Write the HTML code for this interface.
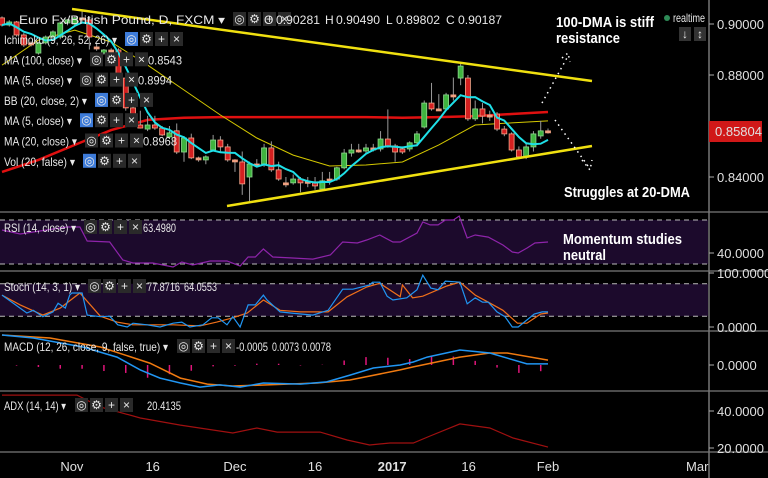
<!DOCTYPE html>
<html><head><meta charset="utf-8">
<style>
html,body{margin:0;padding:0;background:#000;}
svg{display:block;font-family:"Liberation Sans",sans-serif;}
.lg{font-size:12px;fill:#e8e8e8;}
.ax{font-size:13px;fill:#e0e0e0;}
.ann{font-size:15px;font-weight:bold;fill:#fff;}
</style></head>
<body>
<svg id="c" width="768" height="478" viewBox="0 0 768 478" xmlns="http://www.w3.org/2000/svg">
<rect x="0" y="0" width="768" height="478" fill="#000"/>
<g id="bands"></g>
<g id="grid"></g>
<g id="main"></g>
<g id="ind"></g>
<g id="txt"></g>
</svg>
<script>
// ---- Price data (EUR/GBP daily) ----
const opens=[.9024,.8996,.9008,.8957,.8918,.8886,.8926,.8949,.8949,.9004,.9000,.9024,.9016,.8910,.8886,.8898,.8898,.8788,.8671,.8604,.8588,.8604,.8592,.8557,.8581,.8498,.8553,.8475,.8467,.8506,.8545,.8518,.8467,.8459,.8400,.8451,.8451,.8514,.8428,.8377,.8377,.8392,.8381,.8381,.8353,.8385,.8392,.8436,.8494,.8506,.8502,.8514,.8510,.8549,.8522,.8510,.8510,.8534,.8596,.8690,.8667,.8667,.8722,.8788,.8788,.8628,.8667,.8635,.8647,.8588,.8569,.8506,.8479,.8518,.8561,.8581];
const highs=[.9030,.9015,.9012,.8965,.8932,.8930,.8955,.8975,.9010,.9020,.9030,.9049,.9030,.8925,.8902,.8905,.8905,.8800,.8680,.8660,.8640,.8640,.8600,.8600,.8610,.8560,.8570,.8480,.8485,.8565,.8560,.8530,.8470,.8500,.8460,.8470,.8530,.8540,.8460,.8400,.8410,.8400,.8400,.8400,.8420,.8420,.8440,.8510,.8530,.8530,.8530,.8530,.8580,.8665,.8530,.8520,.8540,.8580,.8700,.8769,.8725,.8730,.8790,.8845,.8800,.8700,.8690,.8660,.8655,.8600,.8575,.8520,.8530,.8580,.8620,.8590];
const lows=[.8990,.8990,.8950,.8910,.8912,.8880,.8920,.8940,.8940,.8995,.8995,.9010,.8900,.8895,.8880,.8885,.8780,.8660,.8600,.8590,.8580,.8585,.8560,.8550,.8490,.8460,.8470,.8460,.8450,.8500,.8500,.8460,.8420,.8330,.8306,.8440,.8440,.8420,.8385,.8360,.8370,.8340,.8360,.8350,.8350,.8370,.8385,.8430,.8480,.8495,.8490,.8500,.8500,.8515,.8460,.8490,.8500,.8520,.8590,.8660,.8660,.8660,.8700,.8760,.8620,.8620,.8610,.8620,.8580,.8560,.8500,.8470,.8470,.8500,.8550,.8570];
const closes=[.8996,.9008,.8957,.8918,.8926,.8926,.8949,.8969,.9004,.9016,.9024,.9016,.8949,.8906,.8898,.8890,.8788,.8671,.8612,.8592,.8604,.8592,.8565,.8573,.8498,.8553,.8475,.8467,.8479,.8545,.8518,.8467,.8463,.8373,.8451,.8447,.8514,.8428,.8392,.8373,.8392,.8377,.8383,.8365,.8385,.8392,.8436,.8494,.8506,.8504,.8514,.8512,.8549,.8522,.8498,.8498,.8534,.8569,.8690,.8667,.8665,.8722,.8714,.8835,.8628,.8667,.8639,.8643,.8588,.8569,.8506,.8479,.8518,.8569,.8581,.8580];
// moving averages sampled every 5 candles
const maIdx=[0,5,10,15,20,25,30,35,40,45,50,55,60,65,70,75];
const ma20=[.8839,.8937,.8976,.8929,.8839,.8741,.8643,.8553,.8486,.8443,.8447,.8459,.8526,.8604,.8612,.8620];
const ma100=[.8420,.8467,.8526,.8584,.8624,.8632,.8635,.8635,.8635,.8635,.8635,.8632,.8635,.8639,.8647,.8655];
// RSI
const rsiIdx=[0,2.5,4.3,8.9,10.7,11.7,14.8,16.6,18,20.7,23.5,24.7,26.2,28.6,30.9,32.7,33.8,34.8,35.9,37.2,39.6,42.7,45.1,46.8,48.8,50.1,51.9,53.7,54.7,57,57.8,58.8,59.9,60.9,62,62.8,63.9,65,66.8,68.8,70.1,70.9,72.1,73.2,75];
const rsiVal=[60.9,57.3,59.1,63.6,63.6,50.9,50,33.6,30.9,30.9,27.3,31.8,29.1,32.7,32.7,28.2,36.4,36.4,43.6,36.4,35.5,34.5,38.2,50,49.1,51.8,56.4,50,50,58.2,68.2,65.5,65.5,70,70,73.6,53.6,56.4,54.5,47.3,40.9,40,44.5,49.1,50];
// Stochastic
const stKIdx=[0,3.4,4.3,5.6,7,7.7,8.7,9.3,9.6,11,11.7,13.5,14.8,15.9,17.2,18,19.9,21.7,23.5,24.7,25.8,27.6,28.8,29.7,30.9,31.7,32.7,33.8,34.8,35.9,36.4,38.2,39.6,42.7,44.8,46.8,48.2,50.5,50.9,51.9,52.9,53.7,55.6,57,57.8,58.9,59.9,60.9,62.9,63.9,65,66,66.8,68,69.1,70.1,70.9,72.1,73.1,74.2,75];
const stK=[59,26,31,19,28,44,35,59,63,63,22,19,20,4,0,7,4,0,7,9,0,4,17,17,4,19,0,41,41,59,50,28,26,22,31,70,70,78,83,83,57,50,54,69,96,72,69,85,83,43,54,46,46,28,19,0,0,13,24,28,28];
const stDIdx=[0,2.5,5.6,8,10.7,13.5,15.8,18,23.5,27.2,29.5,31.7,33.7,35.9,38.2,41,44.8,47.4,50.1,51.9,54.7,55,56.4,57.8,61.1,62.9,65,66.8,68.8,70.8,72.1,74,75];
const stD=[59,41,22,35,63,20,9,4,4,2,9,17,26,50,31,28,28,56,74,81,56,78,54,57,76,83,59,46,31,7,7,24,26];
// MACD (line, signal)
const mIdx=[0,4.3,11.1,15.8,19,21.7,24.5,27.2,29.9,32.7,35.9,41,44.6,47.8,51,54.7,56.5,58.4,62.9,67,72.1,75];
const macdLine=[.0200,.0180,.0120,.0053,-.0033,-.0087,-.0120,-.0147,-.0133,-.0147,-.0120,-.0127,-.0113,-.0067,-.0020,0,.0020,.0053,.0100,.0080,.0007,.0007];
const sIdx=[0,6.6,13.5,20.3,24.5,28.2,31.7,36.4,43.3,47.8,54.7,56.5,62.9,67,69.4,75];
const signalLine=[.0200,.0180,.0120,.0013,-.0087,-.0127,-.0140,-.0133,-.0120,-.0100,-.0033,-.0013,.0053,.0080,.0080,.0033];
// ADX
const adxIdx=[0,10.3,13.5,19,24.5,31.7,35,37.8,43.7,47.4,50.5,53.3,56.5,58.8,62.9,67,70.2,75];
const adxVal=[48.6,48.6,42.2,36.2,32.4,28.1,30.8,28.6,28.6,24.3,21.6,22.7,22.7,26.5,33,30.8,25.4,20.5];
// axis ticks
const priceTicks=[0.90,0.88,0.84];
const priceTickLabels=["0.90000","0.88000","0.84000"];
const dateIdx=[9.6,20.7,32,43,53.6,64.1,75,95.5];
const dateLabels=["Nov","16","Dec","16","2017","16","Feb","Mar"];
const lastPrice=0.85804;

const NS="http://www.w3.org/2000/svg";
function mk(tag,attrs,parent){const e=document.createElementNS(NS,tag);for(const k in attrs)e.setAttribute(k,attrs[k]);parent.appendChild(e);return e;}
const X=i=>2+i*7.28;
const PY=p=>24+(0.90-p)*2550;
const RY=v=>264-(v-30)*1.1;
const SY=v=>327-v*0.54;
const MY=v=>365-v*1500;
const AY=v=>448-(v-20)*1.85;
const G=id=>document.getElementById(id);
function line(idx,vals,yf,color,w,name,parent){
  const pts=idx.map((i,k)=>X(i).toFixed(1)+","+yf(vals[k]).toFixed(1)).join(" ");
  const e=mk("polyline",{points:pts,fill:"none",stroke:color,"stroke-width":w},parent);
  
  
  return e;
}
const bands=G('bands');
let b1=mk("rect",{x:0,y:RY(70),width:708,height:RY(30)-RY(70),fill:"#1c0a2c"},bands);


let b2=mk("rect",{x:0,y:SY(80),width:708,height:SY(20)-SY(80),fill:"#1c0a2c"},bands);


const grid=G('grid');
[RY(70),RY(30),SY(80),SY(20)].forEach(y=>{
  const d=mk("line",{x1:0,x2:708,y1:y,y2:y,stroke:"#bbb","stroke-dasharray":"5,4","stroke-width":1},grid);
  
  
});
[212,271,331,391,452].forEach(y=>{
  const s=mk("line",{x1:0,x2:768,y1:y,y2:y,stroke:"#666","stroke-width":1.5},grid);
  
  
});
let va=mk("line",{x1:709,x2:709,y1:0,y2:478,stroke:"#777","stroke-width":1.5},grid);



const main=G('main');
line(maIdx,ma100,PY,"#e01010",2.5,"ma100-line",main);
line(maIdx,ma20,PY,"#d4c800",1,"ma20-line",main);
for(let i=0;i<closes.length;i++){
  const o=opens[i],c=closes[i],h=highs[i],l=lows[i];
  const up=c>=o;
  const w=mk("line",{x1:X(i),x2:X(i),y1:PY(h),y2:PY(l),stroke:"#999","stroke-width":1},main);
  
  
  const top=PY(Math.max(o,c)),bh=Math.max(2,Math.abs(PY(o)-PY(c)));
  const small=Math.abs(PY(o)-PY(c))<3;
  const r=mk("rect",{x:X(i)-2.5,y:top,width:5,height:bh,fill:small?"#f0a080":(up?"#3fb43f":"#d42020"),stroke:small?"#f0a080":(up?"#8fd88f":"#f5a58a"),"stroke-width":0.8},main);
  
  
}
const ma5Idx=[],ma5=[];
for(let i=0;i<closes.length;i++){const s=closes.slice(Math.max(0,i-4),i+1);ma5Idx.push(i);ma5.push(s.reduce((a,b)=>a+b,0)/s.length);}
line(ma5Idx,ma5,PY,"#1ee0e8",2,"ma5-line",main);
let t1=mk("line",{x1:72,y1:9,x2:592,y2:81,stroke:"#f0e010","stroke-width":2.5},main);


let t2=mk("line",{x1:227,y1:206,x2:592,y2:146,stroke:"#f0e010","stroke-width":2.5},main);


let a1=mk("path",{d:"M542 103 L568 56 M562 58 L568 53 L570 62",fill:"none",stroke:"#fff","stroke-width":1.5,"stroke-dasharray":"1.5,4"},main);


let a2=mk("path",{d:"M555 120 L588 166 M582 160 L590 170 L592 160",fill:"none",stroke:"#fff","stroke-width":1.5,"stroke-dasharray":"1.5,4"},main);



const ind=G('ind');
line(rsiIdx,rsiVal,RY,"#8e24aa",1.2,"rsi-line",ind);
line(stDIdx,stD,SY,"#f0701a",1.2,"stoch-d-line",ind);
line(stKIdx,stK,SY,"#2196f3",1.2,"stoch-k-line",ind);
function interp(idx,vals,t){if(t<=idx[0])return vals[0];for(let k=1;k<idx.length;k++){if(t<=idx[k]){const f=(t-idx[k-1])/(idx[k]-idx[k-1]);return vals[k-1]+f*(vals[k]-vals[k-1]);}}return vals[vals.length-1];}
for(let i=2;i<=75;i+=3){
  const h=(interp(mIdx,macdLine,i)-interp(sIdx,signalLine,i))*1.2;
  const hb=mk("line",{x1:X(i),x2:X(i),y1:MY(0),y2:MY(0)-h*1500,stroke:"#e0157a","stroke-width":1.5},ind);
  
  
}
line(sIdx,signalLine,MY,"#f07a10",1.5,"macd-signal-line",ind);
line(mIdx,macdLine,MY,"#2196f3",1.5,"macd-line",ind);
line(adxIdx,adxVal,AY,"#a01010",1.2,"adx-line",ind);

const txt=G('txt');
function T(x,y,s,cls,name,extra,len){const e=mk("text",Object.assign({x:x,y:y,class:cls},extra||{}),txt);if(len){e.setAttribute('textLength',len);e.setAttribute('lengthAdjust','spacingAndGlyphs');}e.textContent=s;return e;}
priceTicks.forEach((p,k)=>{
  const tk=mk("line",{x1:709,x2:714,y1:PY(p),y2:PY(p),stroke:"#aaa"},txt);
  
  
  T(717,PY(p)+5,priceTickLabels[k],"ax","price-tick-label");
});
let pb=mk("rect",{x:709,y:PY(lastPrice)-10,width:53,height:21,fill:"#d01818"},txt);


T(715,PY(lastPrice)+5,lastPrice.toFixed(5),"ax","last-price-label",{fill:"#fff"});
[["40.0000",RY(40)],["100.0000",SY(100)],["0.0000",SY(0)],["0.0000",MY(0)],["40.0000",AY(40)],["20.0000",AY(20)]].forEach(a=>{
  const tk=mk("line",{x1:709,x2:714,y1:a[1],y2:a[1],stroke:"#aaa"},txt);
  
  
  T(717,a[1]+5,a[0],"ax","indicator-tick-label");
});
dateIdx.forEach((d,k)=>{
  T(X(d),471,dateLabels[k],"ax","date-label",{"text-anchor":"middle","font-weight":dateLabels[k]==="2017"?"bold":"normal"});
});
T(556,27,"100-DMA is stiff","ann","annotation-resistance",null,98);
T(556,43,"resistance","ann","annotation-resistance-2",null,64);
T(564,197,"Struggles at 20-DMA","ann","annotation-20dma",null,126);
T(563,244,"Momentum studies","ann","annotation-momentum",null,119);
T(563,260,"neutral","ann","annotation-momentum-2",null,43);
let rd=mk("circle",{cx:667,cy:18,r:3,fill:"#2e8b57"},txt);


T(673,22,"realtime","lg","realtime-label",{fill:"#2e8b57","font-size":"10px"},32);
[679,694].forEach((x,k)=>{
  const b=mk("rect",{x:x,y:27,width:12,height:14,fill:"#333"},txt);
  
  
  T(x+6,38,k?"↕":"↓","lg","scale-button-glyph",{"text-anchor":"middle","font-size":"11px"});
});
function btns(x,y,first){
  for(let k=0;k<4;k++){
    const b=mk("rect",{x:x+k*15,y:y-11,width:13,height:14,fill:(k===0&&first)?"#3d7bd9":"#2a2a2a"},txt);
    
    
    T(x+k*15+6.5,y,["◎","⚙","+","×"][k],"lg","legend-button-glyph",{"text-anchor":"middle","font-size":"10px",fill:"#888"});
  }
}
T(19,24,"Euro Fx/British Pound, D, FXCM ▾","lg","chart-title",{"font-size":"14px",fill:"#fff"},206);
btns(233,23,false);
T(264,24,"O","lg","ohlc-o",{"font-size":"12px"});T(276,24,"0.90281","lg","open-value",{fill:"#d01818"},44);
T(325,24,"H","lg","ohlc-h",{"font-size":"12px"});T(336,24,"0.90490","lg","high-value",{fill:"#d01818"},44);
T(386,24,"L","lg","ohlc-l",{"font-size":"12px"});T(396,24,"0.89802","lg","low-value",{fill:"#d01818"},44);
T(446,24,"C","lg","ohlc-c",{"font-size":"12px"});T(458,24,"0.90187","lg","close-value",{fill:"#d01818"},44);
const leg=[["Ichimoku (9, 26, 52, 26) ▾",125,true,"",""],["MA (100, close) ▾",90,false,"0.8543","#d01818"],["MA (5, close) ▾",80,false,"0.8994","#1ee0e8"],["BB (20, close, 2) ▾",95,true,"",""],["MA (5, close) ▾",80,true,"",""],["MA (20, close) ▾",85,false,"0.8968","#e0d800"],["Vol (20, false) ▾",83,true,"",""]];
leg.forEach((l,k)=>{
  const y=44+k*20.3;
  T(4,y,l[0],"lg","legend-row",null,l[1]-12);
  btns(l[1],y-1,l[2]);
  if(l[3])T(l[1]+58,y,l[3],"lg","legend-value",{fill:l[4]},34);
});
T(4,232,"RSI (14, close) ▾","lg","rsi-legend",null,72);btns(84,231,false);T(143,232,"63.4980","lg","rsi-value",{fill:"#8e24aa"},33);
T(4,291,"Stoch (14, 3, 1) ▾","lg","stoch-legend",null,76);btns(88,290,false);T(147,291,"77.8716","lg","stoch-k-value",{fill:"#2196f3"},33);T(184,291,"64.0553","lg","stoch-d-value",{fill:"#f07a10"},33);
T(4,351,"MACD (12, 26, close, 9, false, true) ▾","lg","macd-legend",null,164);btns(177,350,false);T(236,351,"-0.0005","lg","macd-hist-value",{fill:"#e0157a"},32);T(272,351,"0.0073","lg","macd-value",{fill:"#2196f3"},27);T(302,351,"0.0078","lg","signal-value",{fill:"#f07a10"},29);
T(4,410,"ADX (14, 14) ▾","lg","adx-legend",null,62);btns(75,409,false);T(147,410,"20.4135","lg","adx-value",{fill:"#c01010"},34);
</script>
</body></html>
